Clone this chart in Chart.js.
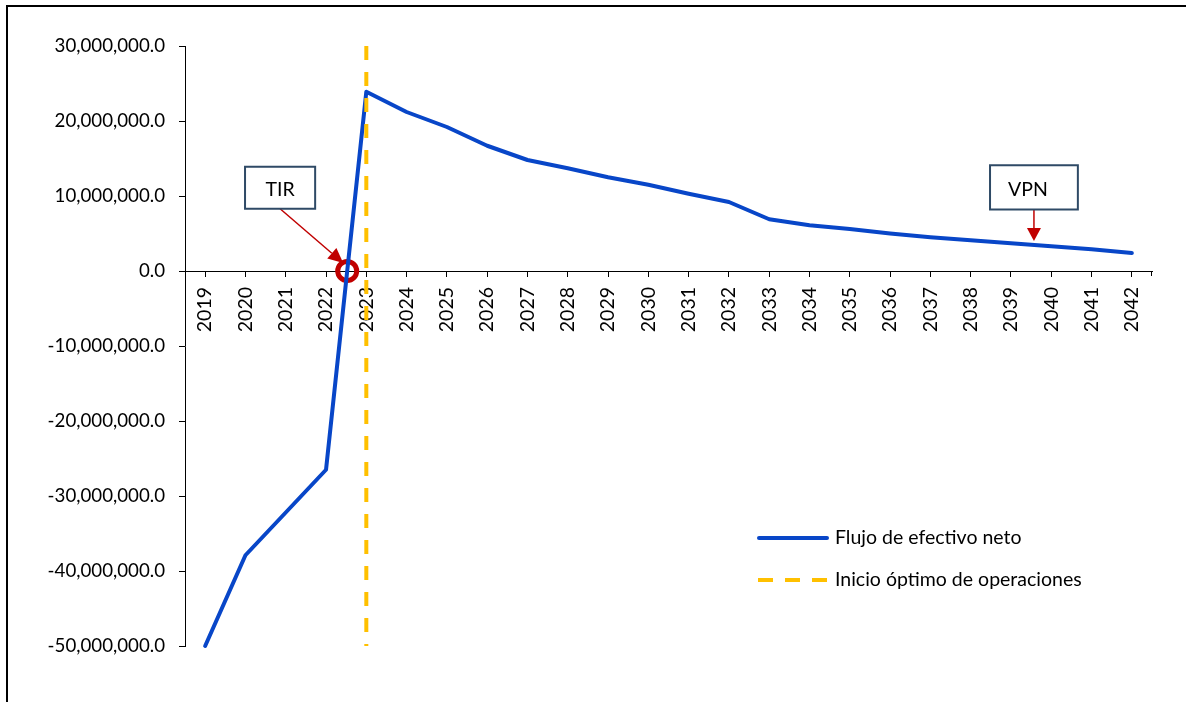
<!DOCTYPE html>
<html>
<head>
<meta charset="utf-8">
<script src="https://cdn.jsdelivr.net/npm/chart.js@4"></script>
<style>
  html, body { margin: 0; padding: 0; background: #fff; overflow: hidden; }
  #marco { position: absolute; left: 6px; top: 5px; width: 1250px; height: 800px; border: 2px solid #000; }
  #caja { position: absolute; left: 0; top: 0; width: 1186px; height: 702px; }
</style>
</head>
<body>
<div id="marco"></div>
<div id="caja"><canvas id="grafica"></canvas></div>
<script>
// años del proyecto
const anios = ["2019","2020","2021","2022","2023","2024","2025","2026","2027","2028","2029","2030",
               "2031","2032","2033","2034","2035","2036","2037","2038","2039","2040","2041","2042"];

// flujo de efectivo neto
const flujo = [-50000000, -37900000, -32200000, -26500000, 23900000, 21200000, 19200000, 16700000,
               14800000, 13700000, 12500000, 11500000, 10300000, 9200000, 6900000, 6100000,
               5600000, 5000000, 4500000, 4100000, 3700000, 3300000, 2900000, 2400000];

// línea vertical: inicio óptimo de operaciones
const inicioX = ["2023", "2023"];
const inicioY = [30000000, -50000000];

// eje y
const yMin = -50000000;
const yMax = 30000000;
const yPaso = 10000000;

const AZUL = "#0846C8";
const AMARILLO = "#FFC000";
const ROJO = "#C00000";
const BORDE_CAJA = "#2F4A66";
const FUENTE = "Lato, 'Open Sans', sans-serif";

Chart.defaults.font.family = FUENTE;
Chart.defaults.font.size = 18.7;
Chart.defaults.color = "#000";

function flecha(ctx, x1, y1, x2, y2, largo, ancho) {
  const ang = Math.atan2(y2 - y1, x2 - x1);
  const bx = x2 - largo * Math.cos(ang), by = y2 - largo * Math.sin(ang);
  ctx.beginPath();
  ctx.moveTo(x1, y1);
  ctx.lineTo(bx, by);
  ctx.stroke();
  ctx.beginPath();
  ctx.moveTo(x2, y2);
  ctx.lineTo(bx + ancho / 2 * Math.sin(ang), by - ancho / 2 * Math.cos(ang));
  ctx.lineTo(bx - ancho / 2 * Math.sin(ang), by + ancho / 2 * Math.cos(ang));
  ctx.closePath();
  ctx.fill();
}

function caja(ctx, x0, y0, x1, y1, texto, tx) {
  ctx.fillStyle = "#fff";
  ctx.fillRect(x0, y0, x1 - x0, y1 - y0);
  ctx.strokeStyle = BORDE_CAJA;
  ctx.lineWidth = 2;
  ctx.strokeRect(x0, y0, x1 - x0, y1 - y0);
  ctx.fillStyle = "#000";
  ctx.font = "19.5px " + FUENTE;
  ctx.textAlign = "center";
  ctx.textBaseline = "middle";
  ctx.fillText(texto, tx, (y0 + y1) / 2 + 2);
}

// círculo de la TIR (debajo de la línea)
const circuloTIR = {
  id: "circuloTIR",
  beforeDatasetsDraw(chart) {
    const { ctx, scales: { x, y } } = chart;
    const i = flujo.findIndex((v, k) => k > 0 && flujo[k - 1] < 0 && v >= 0);
    const f = -flujo[i - 1] / (flujo[i] - flujo[i - 1]);
    const cx = x.getPixelForValue(i - 1 + f), cy = y.getPixelForValue(0);
    ctx.save();
    ctx.strokeStyle = ROJO;
    ctx.lineWidth = 5;
    ctx.beginPath();
    ctx.arc(cx, cy, 9.5, 0, Math.PI * 2);
    ctx.stroke();
    ctx.restore();
  }
};

// cajas, flechas, leyenda y marca final del eje x
const anotaciones = {
  id: "anotaciones",
  afterDraw(chart) {
    const { ctx, chartArea, scales: { x, y } } = chart;
    ctx.save();
    const y0 = y.getPixelForValue(0);

    // marca al final del eje x
    ctx.strokeStyle = "#000";
    ctx.lineWidth = 1;
    ctx.beginPath();
    ctx.moveTo(chartArea.right - 0.5, y0);
    ctx.lineTo(chartArea.right - 0.5, y0 + 5);
    ctx.stroke();

    // TIR
    const i = flujo.findIndex((v, k) => k > 0 && flujo[k - 1] < 0 && v >= 0);
    const f = -flujo[i - 1] / (flujo[i] - flujo[i - 1]);
    const cx = x.getPixelForValue(i - 1 + f);
    const tx0 = x.getPixelForValue(0.99), tx1 = x.getPixelForValue(2.73);
    const ty0 = y.getPixelForValue(13900000), ty1 = y.getPixelForValue(8300000);
    ctx.strokeStyle = ROJO; ctx.fillStyle = ROJO; ctx.lineWidth = 1.5;
    flecha(ctx, (tx0 + tx1) / 2, ty1, cx - 4, y0 - 8, 15, 14);
    caja(ctx, tx0, ty0, tx1, ty1, "TIR", (tx0 + tx1) / 2);

    // VPN
    const vx = x.getPixelForValue(20.57);
    const vx0 = x.getPixelForValue(19.48), vx1 = x.getPixelForValue(21.66);
    const vy0 = y.getPixelForValue(14100000), vy1 = y.getPixelForValue(8200000);
    ctx.strokeStyle = ROJO; ctx.fillStyle = ROJO; ctx.lineWidth = 1.5;
    flecha(ctx, vx, vy1, vx, y.getPixelForValue(4000000), 13, 14);
    caja(ctx, vx0, vy0, vx1, vy1, "VPN", vx - 6);

    // leyenda
    const lx = 758, ly1 = 538, ly2 = 580;
    ctx.lineCap = "round";
    ctx.lineWidth = 4;
    ctx.strokeStyle = AZUL;
    ctx.beginPath(); ctx.moveTo(lx + 1, ly1); ctx.lineTo(lx + 69, ly1); ctx.stroke();
    ctx.strokeStyle = AMARILLO;
    ctx.lineCap = "butt";
    ctx.setLineDash([15, 12]);
    ctx.beginPath(); ctx.moveTo(lx, ly2); ctx.lineTo(lx + 70, ly2); ctx.stroke();
    ctx.setLineDash([]);
    ctx.fillStyle = "#000";
    ctx.font = "19.5px " + FUENTE;
    ctx.textAlign = "left";
    ctx.textBaseline = "middle";
    ctx.fillText(chart.data.datasets[1].label, lx + 77, ly1);
    ctx.fillText(chart.data.datasets[0].label, lx + 77, ly2);
    ctx.restore();
  }
};

new Chart(document.getElementById("grafica"), {
  type: "line",
  data: {
    labels: anios,
    datasets: [
      {
        label: "Inicio óptimo de operaciones",
        data: inicioX.map((a, k) => ({ x: a, y: inicioY[k] })),
        borderColor: AMARILLO,
        borderWidth: 4,
        borderDash: [14, 12],
        pointRadius: 0,
        clip: false,
        order: 0
      },
      {
        label: "Flujo de efectivo neto",
        data: flujo,
        borderColor: AZUL,
        borderWidth: 4,
        borderJoinStyle: "round",
        borderCapStyle: "round",
        pointRadius: 0,
        tension: 0,
        clip: false,
        order: 1
      }
    ]
  },
  options: {
    responsive: true,
    maintainAspectRatio: false,
    animation: false,
    layout: { padding: { left: 0, top: 46, right: 34, bottom: 56 } },
    plugins: { legend: { display: false }, tooltip: { enabled: false } },
    scales: {
      x: {
        position: { y: 0 },
        offset: true,
        grid: { offset: false, drawOnChartArea: false, drawTicks: true, tickLength: 5, color: "#000" },
        border: { display: true, color: "#000", width: 1 },
        ticks: { autoSkip: false, minRotation: 90, maxRotation: 90, padding: 11, font: { size: 19.5 } },
        afterFit(s) { s.height = 0; }
      },
      y: {
        min: yMin,
        max: yMax,
        grid: { drawOnChartArea: false, drawTicks: true, tickLength: 6, color: "#000" },
        border: { display: true, color: "#000", width: 1 },
        ticks: {
          stepSize: yPaso,
          padding: 14,
          callback: v => Number(v).toLocaleString("en-US", { minimumFractionDigits: 1, maximumFractionDigits: 1 })
        },
        afterFit(s) { s.width = 185; }
      }
    }
  },
  plugins: [circuloTIR, anotaciones]
});
</script>
</body>
</html>
